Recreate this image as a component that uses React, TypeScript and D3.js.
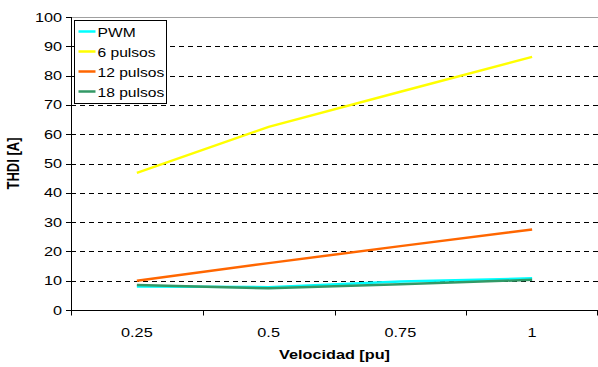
import { useEffect, useRef } from "react"
import * as d3 from "d3"

const categories = ["0.25", "0.5", "0.75", "1"]
const pwm = [8.0, 7.8, 9.7, 10.8]
const pulsos6 = [46.8, 62.5, 74.5, 86.4]
const pulsos12 = [10.0, 16.0, 21.8, 27.5]
const pulsos18 = [8.5, 7.4, 8.8, 10.3]
const yTicks = [0, 10, 20, 30, 40, 50, 60, 70, 80, 90, 100]

const series = [
  { name: "PWM", values: pwm, color: "#00ffff" },
  { name: "6 pulsos", values: pulsos6, color: "#ffff00" },
  { name: "12 pulsos", values: pulsos12, color: "#ff6600" },
  { name: "18 pulsos", values: pulsos18, color: "#339966" },
]

// the original text looks horizontally stretched
const SX = 1.25

export default function App() {
  const svgRef = useRef<SVGSVGElement | null>(null)

  useEffect(() => {
    if (!svgRef.current) return
    d3.select(svgRef.current).selectAll("*").remove()

    const width = 598
    const height = 367
    const margin = { top: 17, right: 0, bottom: 57, left: 71 }
    const innerW = width - margin.left - margin.right
    const innerH = height - margin.top - margin.bottom

    const svg = d3
      .select(svgRef.current)
      .append("g")
      .attr("transform", `translate(${margin.left},${margin.top})`)
      .style("font-family", "'Liberation Sans', Arial, sans-serif")

    const x = d3.scaleBand().domain(categories).range([0, innerW]).padding(0)
    const y = d3.scaleLinear().domain([0, 100]).range([innerH, 0])

    // grid lines
    svg
      .selectAll(".grid")
      .data(yTicks.filter((t) => t > 0 && t < 100))
      .enter()
      .append("line")
      .attr("x1", 0)
      .attr("x2", innerW)
      .attr("y1", (d) => Math.round(y(d)) + 0.5)
      .attr("y2", (d) => Math.round(y(d)) + 0.5)
      .attr("stroke", "#000")
      .attr("stroke-dasharray", "5,4")

    // top border
    svg
      .append("line")
      .attr("x1", 0)
      .attr("x2", innerW)
      .attr("y1", 0.5)
      .attr("y2", 0.5)
      .attr("stroke", "#a0a0a0")

    // y axis
    svg
      .append("line")
      .attr("x1", 0.5)
      .attr("x2", 0.5)
      .attr("y1", 0)
      .attr("y2", innerH)
      .attr("stroke", "#000")
    svg
      .selectAll(".yt")
      .data(yTicks)
      .enter()
      .append("line")
      .attr("x1", -5)
      .attr("x2", 0.5)
      .attr("y1", (d) => Math.round(y(d)) + 0.5)
      .attr("y2", (d) => Math.round(y(d)) + 0.5)
      .attr("stroke", "#000")
    svg
      .selectAll(".yl")
      .data(yTicks)
      .enter()
      .append("text")
      .attr("transform", (d) => `translate(-9,${y(d) + 4.5}) scale(${SX},1)`)
      .attr("text-anchor", "end")
      .attr("font-size", 13)
      .text((d) => d)

    // x axis
    const xAxis = svg
      .append("g")
      .attr("transform", `translate(0,${innerH + 0.5})`)
    xAxis
      .append("line")
      .attr("x1", 0)
      .attr("x2", innerW)
      .attr("stroke", "#000")
    const boundaries = categories.map((c) => x(c) as number).concat([innerW - 1])
    xAxis
      .selectAll(".xt")
      .data(boundaries)
      .enter()
      .append("line")
      .attr("x1", (d) => Math.round(d) + 0.5)
      .attr("x2", (d) => Math.round(d) + 0.5)
      .attr("y1", 0)
      .attr("y2", 5)
      .attr("stroke", "#000")
    xAxis
      .selectAll(".xl")
      .data(categories)
      .enter()
      .append("text")
      .attr("transform", (d) => `translate(${(x(d) as number) + x.bandwidth() / 2},${26}) scale(${SX},1)`)
      .attr("text-anchor", "middle")
      .attr("font-size", 13)
      .text((d) => d)

    // lines
    const line = d3
      .line<number>()
      .x((_, i) => (x(categories[i]) as number) + x.bandwidth() / 2)
      .y((d) => y(d))

    series.forEach((s) => {
      svg
        .append("path")
        .datum(s.values)
        .attr("fill", "none")
        .attr("stroke", s.color)
        .attr("stroke-width", 2.5)
        .attr("d", line)
    })

    // axis titles
    svg
      .append("text")
      .attr("transform", `translate(${innerW / 2},${innerH + 49}) scale(${SX},1)`)
      .attr("text-anchor", "middle")
      .attr("font-size", 13)
      .attr("font-weight", "bold")
      .text("Velocidad [pu]")

    svg
      .append("text")
      .attr("transform", `translate(${-52},${innerH / 2}) scale(${SX},1) rotate(-90)`)
      .attr("text-anchor", "middle")
      .attr("font-size", 13)
      .attr("font-weight", "bold")
      .text("THDI [A]")

    // legend
    const legend = svg.append("g").attr("transform", "translate(3.5,3.5)")
    legend
      .append("rect")
      .attr("width", 92)
      .attr("height", 83)
      .attr("fill", "#fff")
      .attr("stroke", "#000")
    series.forEach((s, i) => {
      const yy = 11 + i * 20
      legend
        .append("line")
        .attr("x1", 4)
        .attr("x2", 21)
        .attr("y1", yy)
        .attr("y2", yy)
        .attr("stroke", s.color)
        .attr("stroke-width", 2.5)
      legend
        .append("text")
        .attr("transform", `translate(23,${yy + 5}) scale(${SX},1)`)
        .attr("font-size", 12.5)
        .text(s.name)
    })
  }, [])

  return (
    <svg
      ref={svgRef}
      width={598}
      height={367}
      style={{ position: "absolute", left: 0, top: 0, background: "#fff" }}
    ></svg>
  )
}
